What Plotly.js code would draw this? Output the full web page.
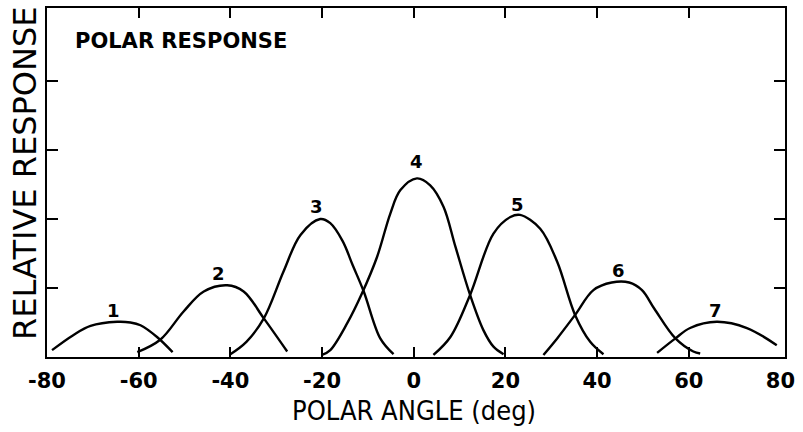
<!DOCTYPE html>
<html>
<head>
<meta charset="utf-8">
<script src="https://cdn.plot.ly/plotly-3.0.1.min.js"></script>
<style>html,body{margin:0;padding:0;background:#fff;}#chart{width:803px;height:432px;}</style>
</head>
<body>
<div id="chart"></div>
<script>
// Curve samples (x: polar angle in deg, y: relative response)
const c1x = [-78.9, -74.2, -70.5, -64.7, -61.8, -59.6, -56.0, -52.6];
const c1y = [0.10, 0.32, 0.45, 0.51, 0.50, 0.46, 0.29, 0.07];
const c2x = [-60.3, -55.3, -50.2, -45.8, -40.7, -37.1, -32.7, -27.6];
const c2y = [0.07, 0.25, 0.66, 0.95, 1.04, 0.95, 0.56, 0.08];
const c3x = [-40.0, -36.5, -32.7, -28.4, -24.7, -20.4, -18.2, -15.5, -13.3, -10.9, -7.3, -4.4];
const c3y = [0.04, 0.22, 0.56, 1.24, 1.77, 2.00, 1.94, 1.68, 1.33, 0.95, 0.27, 0.04];
const c4x = [-20.0, -18.2, -14.5, -11.3, -8.0, -5.1, -2.9, 0.7, 3.6, 6.5, 9.1, 12.3, 15.2, 17.4, 19.6];
const c4y = [0.03, 0.10, 0.49, 0.92, 1.45, 2.08, 2.42, 2.59, 2.49, 2.18, 1.60, 0.90, 0.39, 0.15, 0.04];
const c5x = [4.3, 8.0, 12.3, 17.4, 21.1, 23.2, 27.6, 31.3, 35.2, 38.5, 41.4];
const c5y = [0.03, 0.29, 0.90, 1.79, 2.03, 2.06, 1.86, 1.38, 0.61, 0.22, 0.04];
const c6x = [28.3, 31.3, 35.2, 39.2, 43.2, 47.0, 49.8, 52.5, 57.1, 61.0, 62.5];
const c6y = [0.03, 0.27, 0.61, 0.97, 1.08, 1.08, 0.97, 0.70, 0.27, 0.08, 0.05];
const c7x = [53.1, 57.1, 60.3, 66.1, 72.7, 79.2];
const c7y = [0.06, 0.27, 0.42, 0.51, 0.42, 0.17];

const curveNames = ["1", "2", "3", "4", "5", "6", "7"];
const labelX = [-65.4, -42.5, -21.2, 0.7, 22.6, 44.7, 65.9];
const labelY = [0.68, 1.21, 2.18, 2.83, 2.21, 1.25, 0.68];

const xTickVals = [-80, -60, -40, -20, 0, 20, 40, 60, 80];
const xTickText = ["-80", "-60", "-40", "-20", "0", "20", "40", "60", "80"];
const xMarkVals = [-60, -40, -20, 0, 20, 40, 60];
const yTickVals = [1, 2, 3, 4];

const titleText = "POLAR RESPONSE";
const xTitle = "POLAR ANGLE (deg)";
const yTitle = "RELATIVE RESPONSE";

const xs = [c1x, c2x, c3x, c4x, c5x, c6x, c7x];
const ys = [c1y, c2y, c3y, c4y, c5y, c6y, c7y];

const traces = xs.map((x, i) => ({
  x: x, y: ys[i], type: "scatter", mode: "lines", name: curveNames[i],
  line: {color: "#000", width: 2.4, shape: "spline", smoothing: 1},
  hoverinfo: "skip"
}));
traces.push({x: [-80, 81], y: [0, 0], xaxis: "x2", type: "scatter", mode: "lines",
  line: {color: "rgba(0,0,0,0)", width: 0}, hoverinfo: "skip", showlegend: false});

const annotations = curveNames.map((n, i) => ({
  x: labelX[i], y: labelY[i], xref: "x", yref: "y", text: n, showarrow: false,
  font: {family: "DejaVu Sans", size: 18, color: "#000", weight: "bold"}
}));
annotations.push({x: 0.035, y: 0.905, xref: "paper", yref: "paper", xanchor: "left", yanchor: "middle",
  text: titleText, showarrow: false, font: {family: "DejaVu Sans", size: 21, color: "#000", weight: "bold"}});
annotations.push({x: 0, y: -0.152, xref: "x", yref: "paper", xanchor: "center", yanchor: "middle",
  text: xTitle, showarrow: false, font: {family: "DejaVu Sans Condensed, DejaVu Sans", size: 27, color: "#000"}});
annotations.push({x: -0.03, y: 0.527, xref: "paper", yref: "paper", xanchor: "center", yanchor: "middle",
  text: yTitle, textangle: -90, showarrow: false, font: {family: "DejaVu Sans", size: 32, color: "#000"}});

const layout = {
  width: 803, height: 432,
  margin: {l: 47, r: 18, t: 8, b: 75},
  paper_bgcolor: "#fff", plot_bgcolor: "#fff",
  showlegend: false,
  xaxis: {range: [-80, 81], tickvals: xTickVals, ticktext: xTickText, ticks: "",
    showline: true, linecolor: "#000", linewidth: 2, mirror: true, showgrid: false, zeroline: false,
    tickfont: {family: "DejaVu Sans", size: 21, color: "#000", weight: "bold"}, ticklabelstandoff: 4},
  xaxis2: {range: [-80, 81], overlaying: "x", side: "bottom", tickvals: xMarkVals, ticks: "inside",
    ticklen: 10, tickwidth: 2, tickcolor: "#000", mirror: "ticks", showticklabels: false,
    showline: false, showgrid: false, zeroline: false},
  yaxis: {range: [0, 5.06], tickvals: yTickVals, ticks: "inside", ticklen: 11, tickwidth: 2, tickcolor: "#000",
    showticklabels: false, showline: true, linecolor: "#000", linewidth: 2, mirror: "ticks",
    showgrid: false, zeroline: false},
  annotations: annotations
};

Plotly.newPlot("chart", traces, layout, {displayModeBar: false, staticPlot: true});
</script>
</body>
</html>
